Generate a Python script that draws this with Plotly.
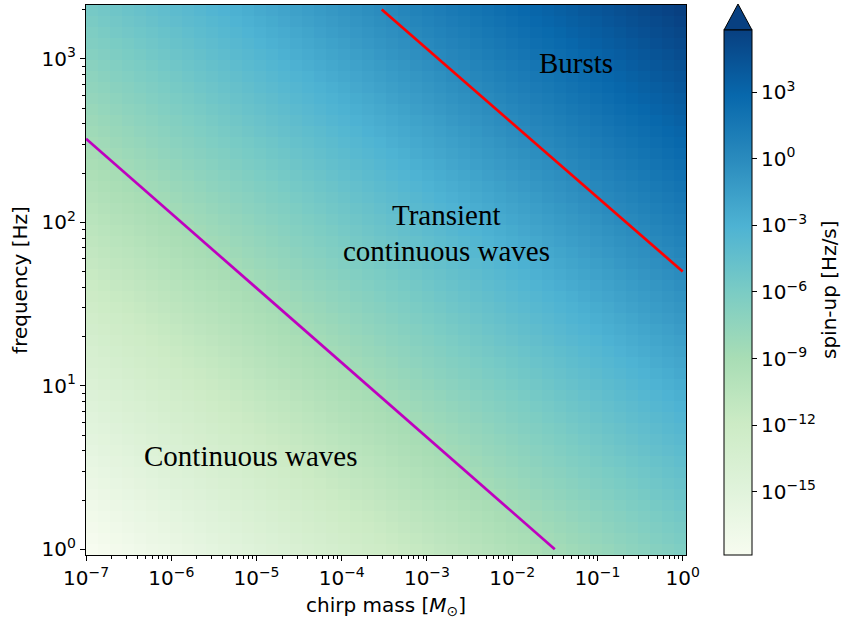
import numpy as np
import plotly.graph_objects as go

# ---- axis extents (log10) and grid resolution ----
LOG_MC_RANGE = [-7.0, 0.039]      # chirp mass [M_sun]
LOG_F_RANGE = [-0.035, 3.329]     # frequency [Hz]
N_MC, N_F = 50, 50

# colour limits of the spin-up scale (log10 Hz/s)
LOG_FDOT_LIMITS = [-17.85, 5.80]
CBAR_TICKS = [-15, -12, -9, -6, -3, 0, 3]

# boundary lines (chirp mass, frequency)
cw_line_mc = [1e-7, 0.0316]
cw_line_f = [324, 1.0]
burst_line_mc = [2.95e-4, 1.0]
burst_line_f = [2000, 50]

# region labels: (text, log10 chirp mass, log10 frequency)
region_labels = [
    ("Bursts", -1.246, 2.975),
    ("Transient", -2.771, 2.045),
    ("continuous waves", -2.771, 1.822),
    ("Continuous waves", -5.076, 0.572),
]

X_TICKS = [-7, -6, -5, -4, -3, -2, -1, 0]
Y_TICKS = [0, 1, 2, 3]

# physical constants
G_MSUN_OVER_C3 = 4.9255e-6  # s


def spin_up(mc, f):
    """Leading-order chirp frequency derivative (Hz/s)."""
    return 96.0 / 5.0 * np.pi ** (8.0 / 3.0) * (G_MSUN_OVER_C3 * mc) ** (5.0 / 3.0) * f ** (11.0 / 3.0)


mc_edges = np.logspace(LOG_MC_RANGE[0], LOG_MC_RANGE[1], N_MC + 1)
f_edges = np.logspace(LOG_F_RANGE[0], LOG_F_RANGE[1], N_F + 1)
mc_c = np.sqrt(mc_edges[:-1] * mc_edges[1:])
f_c = np.sqrt(f_edges[:-1] * f_edges[1:])
MC, F = np.meshgrid(mc_c, f_c)
log_fdot = np.log10(spin_up(MC, F))


def sup(k):
    s = str(k).replace("-", "\u2212")
    return f"10<sup>{s}</sup>"


FONT = "DejaVu Sans"
FS = 20

fig = go.Figure()

fig.add_trace(go.Heatmap(
    x=mc_edges, y=f_edges, z=log_fdot,
    colorscale="GnBu", zmin=LOG_FDOT_LIMITS[0], zmax=LOG_FDOT_LIMITS[1],
    hoverinfo="skip",
    colorbar=dict(
        thickness=28, thicknessmode="pixels",
        len=525, lenmode="pixels",
        x=(724 - 86) / 600, xanchor="left", xpad=0,
        y=0, yanchor="bottom", ypad=0,
        outlinewidth=1, outlinecolor="black",
        tickmode="array", tickvals=CBAR_TICKS, ticktext=[sup(k) for k in CBAR_TICKS],
        ticks="outside", ticklen=5, tickwidth=1, tickcolor="black",
        tickfont=dict(family=FONT, size=FS, color="black"),
    ),
))

fig.add_trace(go.Scatter(x=cw_line_mc, y=cw_line_f, mode="lines",
                         line=dict(color="#bf00bf", width=2.7),
                         hoverinfo="skip", showlegend=False))
fig.add_trace(go.Scatter(x=burst_line_mc, y=burst_line_f, mode="lines",
                         line=dict(color="#ff0000", width=2.7),
                         hoverinfo="skip", showlegend=False))

for text, lx, ly in region_labels:
    fig.add_annotation(x=lx, y=ly, xref="x", yref="y", text=text, showarrow=False,
                       xanchor="center", yanchor="middle",
                       font=dict(family="Liberation Serif", size=29, color="black"))

# colour bar label
fig.add_annotation(x=(829 - 86) / 600, y=(555 - 290) / 550, xref="paper", yref="paper",
                   text="spin-up [Hz/s]", textangle=-90, showarrow=False,
                   xanchor="center", yanchor="middle",
                   font=dict(family=FONT, size=FS, color="black"))

# colour bar "extend" arrow
x0 = (724 - 86) / 600
x1 = (752 - 86) / 600
xm = (738 - 86) / 600
yb = (555 - 30) / 550
yt = (555 - 4) / 550
fig.add_shape(type="path", xref="paper", yref="paper",
              path=f"M {x0} {yb} L {xm} {yt} L {x1} {yb} Z",
              fillcolor="rgb(8,64,129)", line=dict(color="black", width=1))

minor_x = [k * 10.0 ** d for d in range(-7, 1) for k in range(2, 10)]
minor_y = [k * 10.0 ** d for d in range(-1, 4) for k in range(2, 10)]

axis_common = dict(
    type="log", showgrid=False, zeroline=False,
    showline=True, mirror=True, linecolor="black", linewidth=1.2,
    ticks="outside", ticklen=5, tickwidth=1.1, tickcolor="black",
    tickfont=dict(family=FONT, size=FS, color="black"),
)

fig.update_xaxes(
    **axis_common, range=LOG_MC_RANGE,
    tickmode="array", tickvals=[10.0 ** k for k in X_TICKS], ticktext=[sup(k) for k in X_TICKS],
    minor=dict(tickmode="array", tickvals=minor_x, ticks="outside", ticklen=3,
               tickwidth=0.9, tickcolor="black", showgrid=False),
    title=dict(text="chirp mass [<i>M</i><sub>\u2299</sub>]",
               font=dict(family=FONT, size=FS, color="black"), standoff=8),
)
fig.update_yaxes(
    **axis_common, range=LOG_F_RANGE,
    tickmode="array", tickvals=[10.0 ** k for k in Y_TICKS], ticktext=[sup(k) for k in Y_TICKS],
    minor=dict(tickmode="array", tickvals=minor_y, ticks="outside", ticklen=3,
               tickwidth=0.9, tickcolor="black", showgrid=False),
    title=dict(text="frequency [Hz]",
               font=dict(family=FONT, size=FS, color="black"), standoff=8),
)

fig.update_layout(
    width=843, height=621,
    margin=dict(l=86, r=157, t=5, b=66, autoexpand=False),
    plot_bgcolor="white", paper_bgcolor="white",
    showlegend=False,
)

fig.write_html("out.html")
